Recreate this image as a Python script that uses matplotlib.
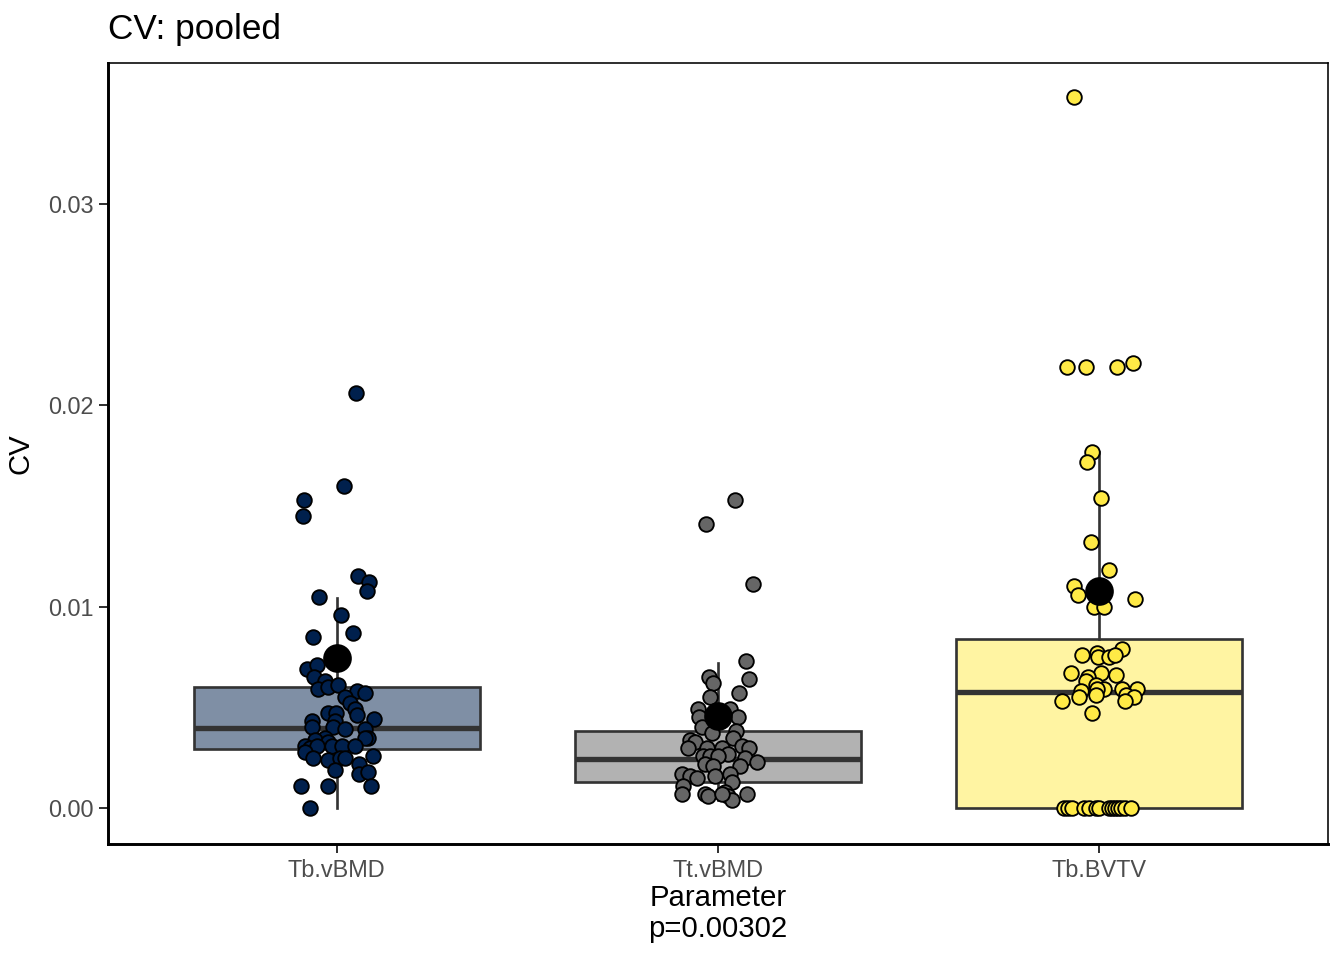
import matplotlib
matplotlib.use("Agg")
import matplotlib.pyplot as plt

plt.rcParams['font.family'] = ['Liberation Sans', 'DejaVu Sans']

# categories and colours
params = ["Tb.vBMD", "Tt.vBMD", "Tb.BVTV"]
point_cols = ["#00204D", "#666666", "#FFEA46"]

# CV values
tb_vbmd = [0.0206, 0.0160, 0.0153, 0.0145, 0.0115, 0.0112, 0.0108, 0.0105, 0.0096,
           0.0085, 0.0087, 0.0069, 0.0071, 0.0065, 0.0063, 0.0059, 0.0060, 0.0061,
           0.0058, 0.0057, 0.0055, 0.0052, 0.0049, 0.0046, 0.0044, 0.0047, 0.0047,
           0.0043, 0.0040, 0.0043, 0.0040, 0.0039, 0.0039, 0.0035, 0.0035, 0.0035,
           0.0034, 0.0033, 0.0031, 0.0030, 0.0031, 0.0031, 0.0031, 0.0031, 0.0028,
           0.0025, 0.0024, 0.0025, 0.0025, 0.0026, 0.0022, 0.0019, 0.0017, 0.0018,
           0.0011, 0.0011, 0.0011, 0.0000]
tt_vbmd = [0.0153, 0.0141, 0.0111, 0.0073, 0.0064, 0.0065, 0.0062, 0.0057, 0.0055,
           0.0049, 0.0045, 0.0049, 0.0045, 0.0040, 0.0037, 0.0038, 0.0035, 0.0034,
           0.0033, 0.0030, 0.0030, 0.0030, 0.0027, 0.0031, 0.0030, 0.0026, 0.0026,
           0.0026, 0.0025, 0.0023, 0.0022, 0.0021, 0.0021, 0.0017, 0.0016, 0.0015,
           0.0016, 0.0017, 0.0013, 0.0011, 0.0007, 0.0007, 0.0006, 0.0008, 0.0006,
           0.0004, 0.0007, 0.0007]
tb_bvtv = [0.0353, 0.0219, 0.0219, 0.0219, 0.0221, 0.0177, 0.0172, 0.0154, 0.0132,
           0.0118, 0.0110, 0.0106, 0.0100, 0.0100, 0.0104, 0.0079, 0.0076, 0.0077,
           0.0075, 0.0075, 0.0076, 0.0067, 0.0067, 0.0066, 0.0065, 0.0063, 0.0061,
           0.0059, 0.0058, 0.0059, 0.0059, 0.0059, 0.0055, 0.0056, 0.0056, 0.0055,
           0.0053, 0.0053, 0.0047,
           0.0, 0.0, 0.0, 0.0, 0.0, 0.0, 0.0, 0.0, 0.0, 0.0, 0.0, 0.0, 0.0, 0.0]

# horizontal jitter of each point (as drawn in the reference)
tb_vbmd_jit = [0.050, 0.018, -0.087, -0.089, 0.055, 0.084, 0.079, -0.047, 0.010,
               -0.063, 0.042, -0.079, -0.052, -0.060, -0.031, -0.050, -0.024, 0.003,
               0.052, 0.073, 0.021, 0.034, 0.047, 0.052, 0.097, -0.024, -0.003,
               -0.066, -0.066, -0.005, -0.010, 0.021, 0.073, 0.081, 0.073, -0.031,
               -0.058, -0.024, -0.084, -0.071, -0.052, -0.013, 0.013, 0.047, -0.084,
               -0.063, -0.024, 0.008, 0.021, 0.094, 0.058, -0.005, 0.058, 0.081,
               0.089, -0.094, -0.024, -0.071]
tt_vbmd_jit = [0.045, -0.031, 0.092, 0.073, 0.081, -0.024, -0.013, 0.055, -0.021,
               -0.052, -0.050, 0.031, 0.052, -0.042, -0.016, 0.047, 0.039, -0.073,
               -0.060, -0.079, -0.029, 0.010, 0.026, 0.063, 0.081, -0.039, -0.021,
               0.000, 0.071, 0.102, -0.034, -0.013, 0.058, -0.094, -0.073, -0.055,
               -0.008, 0.031, 0.037, -0.092, -0.094, -0.034, -0.026, 0.018, 0.026,
               0.037, 0.076, 0.010]
tb_bvtv_jit = [-0.066, -0.084, -0.034, 0.047, 0.089, -0.018, -0.031, 0.005, -0.021,
               0.026, -0.066, -0.055, -0.013, 0.013, 0.094, 0.060, -0.045, -0.005,
               -0.003, 0.026, 0.042, -0.073, 0.005, 0.045, -0.029, -0.034, -0.008,
               0.013, -0.047, -0.005, 0.060, 0.100, -0.052, -0.008, 0.071, 0.092,
               0.068, -0.097, -0.018,
               -0.092, -0.081, -0.071, -0.039, -0.026, -0.008, 0.000, 0.026, 0.034,
               0.042, 0.050, 0.058, 0.068, 0.084]

# box statistics and means as drawn
q1 = [0.00293, 0.00129, 0.0]
med = [0.00397, 0.00243, 0.00576]
q3 = [0.00601, 0.00382, 0.00839]
whislo = [0.0, 0.0004, 0.0]
whishi = [0.01043, 0.0072, 0.0177]
means = [0.00744, 0.00457, 0.01078]

values = [tb_vbmd, tt_vbmd, tb_bvtv]
jitters = [tb_vbmd_jit, tt_vbmd_jit, tb_bvtv_jit]

fig = plt.figure(figsize=(7, 5), dpi=192)
ax = fig.add_axes([0.0804, 0.1208, 0.9077, 0.8136])

stats = []
for i in range(3):
    stats.append(dict(q1=q1[i], med=med[i], q3=q3[i], whislo=whislo[i],
                      whishi=whishi[i], fliers=[]))
bp = ax.bxp(stats, positions=[1, 2, 3], widths=0.75, patch_artist=True,
            showcaps=False, showfliers=False,
            boxprops=dict(edgecolor="#333333", linewidth=1.0),
            whiskerprops=dict(color="#333333", linewidth=1.0),
            medianprops=dict(color="#333333", linewidth=2.0))
for patch, col in zip(bp["boxes"], point_cols):
    patch.set_facecolor(matplotlib.colors.to_rgba(col, 0.5))

for i in range(3):
    xs = [i + 1 + j for j in jitters[i]]
    ax.scatter(xs, values[i], s=30, facecolor=point_cols[i], edgecolor="black",
               linewidth=0.7, zorder=3)

ax.scatter([1, 2, 3], means, s=95, color="black", zorder=4)

ax.set_xlim(0.4, 3.6)
ax.set_ylim(-0.00179, 0.0370)
ax.set_xticks([1, 2, 3])
ax.set_xticklabels(params)
ax.set_yticks([0.0, 0.01, 0.02, 0.03])
ax.set_yticklabels(["0.00", "0.01", "0.02", "0.03"])
ax.tick_params(axis="both", labelsize=8.8, labelcolor="#4D4D4D", color="#333333",
               length=3.5, width=0.75, pad=2.0)

for side in ["left", "bottom"]:
    ax.spines[side].set_linewidth(1.1)
for side in ["top", "right"]:
    ax.spines[side].set_linewidth(0.6)

ax.set_xlabel("Parameter\np=0.00302", fontsize=11, labelpad=1, linespacing=1.12)
ax.set_ylabel("CV", fontsize=11, labelpad=5)
ax.set_title("CV: pooled", fontsize=13.2, loc="left", pad=9)

fig.savefig("out.png", dpi=192)
